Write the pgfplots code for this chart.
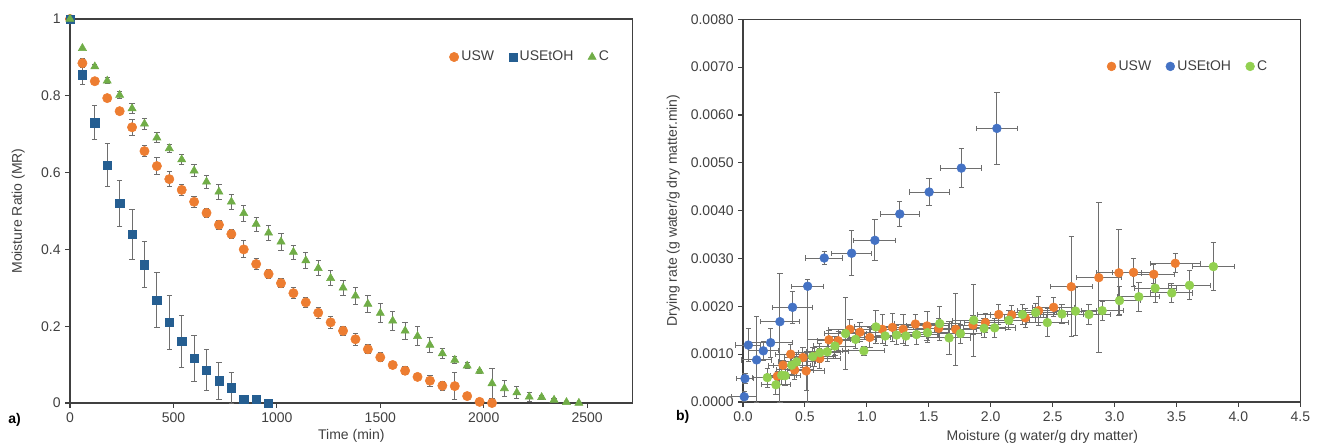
\documentclass[border=0pt]{standalone}
\usepackage{fontspec}
\setmainfont{Liberation Sans}
\usepackage{pgfplots}
\usepackage{pgfplotstable}
\pgfplotsset{compat=1.18}

\definecolor{cOr}{HTML}{ED7D31}
\definecolor{cBd}{HTML}{255E91}
\definecolor{cGr}{HTML}{70AD47}
\definecolor{cBl}{HTML}{4472C4}
\definecolor{cLg}{HTML}{92D050}
\definecolor{cEr}{HTML}{6E6E6E}
\definecolor{cAx}{HTML}{404040}

% a) moisture ratio vs time
\pgfplotstableread{
t y e
0 1.000 0
60 0.885 0.012
120 0.838 0.008
180 0.794 0.008
240 0.760 0.008
300 0.718 0.020
360 0.656 0.015
420 0.617 0.022
480 0.583 0.020
540 0.555 0.015
600 0.524 0.015
660 0.495 0.012
720 0.464 0.012
780 0.440 0.012
840 0.400 0.022
900 0.362 0.015
960 0.336 0.012
1020 0.312 0.012
1080 0.286 0.015
1140 0.262 0.012
1200 0.235 0.015
1260 0.210 0.015
1320 0.188 0.012
1380 0.166 0.015
1440 0.140 0.012
1500 0.119 0.012
1560 0.099 0.010
1620 0.084 0.010
1680 0.068 0.008
1740 0.058 0.015
1800 0.045 0.012
1860 0.044 0.035
1920 0.018 0.010
1980 0.003 0.005
2040 0.000 0
}\usw

\pgfplotstableread{
t y e
0 1.000 0
60 0.855 0.025
120 0.730 0.045
180 0.620 0.055
240 0.520 0.060
300 0.440 0.065
360 0.360 0.060
420 0.268 0.072
480 0.210 0.070
540 0.160 0.068
600 0.116 0.060
660 0.086 0.053
720 0.058 0.048
780 0.040 0.040
840 0.010 0.010
900 0.010 0.005
960 0.000 0
}\usetoh

\pgfplotstableread{
t y e
0 1.000 0
60 0.924 0
120 0.876 0.005
180 0.839 0.008
240 0.802 0.010
300 0.767 0.012
360 0.727 0.015
420 0.691 0.013
480 0.663 0.010
540 0.634 0.013
600 0.605 0.015
660 0.576 0.017
720 0.550 0.020
780 0.524 0.020
840 0.494 0.020
900 0.466 0.018
960 0.443 0.020
1020 0.420 0.022
1080 0.393 0.018
1140 0.371 0.020
1200 0.351 0.020
1260 0.325 0.020
1320 0.300 0.020
1380 0.279 0.022
1440 0.258 0.022
1500 0.234 0.025
1560 0.214 0.025
1620 0.188 0.022
1680 0.174 0.025
1740 0.151 0.020
1800 0.129 0.012
1860 0.112 0.008
1920 0.097 0.008
1980 0.083 0.005
2040 0.051 0.038
2100 0.038 0.020
2160 0.027 0.015
2220 0.016 0.012
2280 0.015 0.005
2340 0.008 0.005
2400 0.002 0.003
2460 0.000 0
}\ctrl

% b) drying rate vs moisture
\pgfplotstableread{
x y ex ep em
0.277 0.00054 0.10 0.0001 0.0001
0.323 0.00077 0.12 0.0001 0.0001
0.385 0.00100 0.12 0.0002 0.0002
0.417 0.00067 0.15 0.0002 0.0002
0.484 0.00093 0.15 0.0002 0.0002
0.510 0.00065 0.15 0.0004 0.0004
0.573 0.00095 0.17 0.0002 0.0002
0.620 0.00091 0.17 0.0002 0.0002
0.694 0.00130 0.17 0.0002 0.0002
0.769 0.00128 0.17 0.0002 0.0002
0.863 0.00152 0.17 0.0002 0.0002
0.944 0.00146 0.17 0.0002 0.0002
1.024 0.00135 0.17 0.0002 0.0002
1.124 0.00152 0.17 0.0003 0.0003
1.207 0.00156 0.17 0.0003 0.0003
1.293 0.00152 0.17 0.0003 0.0003
1.392 0.00163 0.17 0.0002 0.0002
1.486 0.00159 0.17 0.0003 0.0003
1.580 0.00154 0.17 0.0002 0.0002
1.718 0.00152 0.17 0.00075 0.00075
1.857 0.00161 0.17 0.0002 0.0002
1.957 0.00166 0.17 0.0002 0.0002
2.065 0.00183 0.17 0.0002 0.0002
2.170 0.00182 0.17 0.0002 0.0002
2.280 0.00176 0.17 0.0002 0.0002
2.387 0.00191 0.17 0.0003 0.0003
2.508 0.00198 0.17 0.0002 0.0002
2.650 0.00241 0.17 0.00105 0.00105
2.873 0.00260 0.18 0.00157 0.00157
3.035 0.00270 0.18 0.0009 0.0009
3.153 0.00271 0.17 0.0003 0.0003
3.317 0.00267 0.17 0.0002 0.0002
3.490 0.00290 0.20 0.0002 0.0002
}\rusw

\pgfplotstableread{
x y ex ep em
0.010 0.00011 0.10 0.0001 0.0001
0.016 0.00049 0.07 0.0001 0.0001
0.043 0.00119 0.10 0.00035 0.00035
0.110 0.00088 0.12 0.0009 0.0009
0.164 0.00107 0.12 0.0002 0.0002
0.223 0.00124 0.18 0.0003 0.0003
0.298 0.00168 0.16 0.0010 0.0017
0.400 0.00198 0.16 0.00034 0.00034
0.522 0.00242 0.13 0.00015 0.00242
0.656 0.00301 0.15 0.00014 0.00014
0.877 0.00311 0.16 0.00047 0.00047
1.065 0.00338 0.17 0.00043 0.00043
1.266 0.00393 0.16 0.00027 0.00027
1.503 0.00439 0.16 0.00028 0.00028
1.763 0.00489 0.165 0.0004 0.0004
2.050 0.00572 0.165 0.00075 0.00075
}\rusetoh

\pgfplotstableread{
x y ex ep em
0.196 0.00051 0.12 0.0002 0.0002
0.266 0.00036 0.12 0.0002 0.0002
0.312 0.00056 0.12 0.0002 0.0002
0.340 0.00055 0.12 0.0002 0.0002
0.393 0.00077 0.15 0.0002 0.0002
0.433 0.00084 0.15 0.0002 0.0002
0.562 0.00095 0.17 0.0002 0.0002
0.620 0.00103 0.17 0.0002 0.0002
0.680 0.00105 0.17 0.0002 0.0002
0.742 0.00117 0.17 0.0002 0.0002
0.828 0.00143 0.17 0.00075 0.00075
0.909 0.00131 0.17 0.0002 0.0002
0.976 0.00107 0.17 0.0001 0.0001
1.073 0.00157 0.17 0.00035 0.00035
1.148 0.00138 0.17 0.0002 0.0002
1.240 0.00140 0.17 0.0002 0.0002
1.315 0.00138 0.17 0.0002 0.0002
1.401 0.00141 0.17 0.0002 0.0002
1.490 0.00145 0.17 0.0002 0.0002
1.589 0.00164 0.17 0.00035 0.00035
1.664 0.00134 0.17 0.00035 0.00035
1.756 0.00143 0.17 0.0002 0.0002
1.863 0.00171 0.17 0.00075 0.00075
1.946 0.00154 0.17 0.0002 0.0002
2.032 0.00155 0.17 0.0002 0.0002
2.146 0.00171 0.17 0.0002 0.0002
2.256 0.00183 0.17 0.0002 0.0002
2.363 0.00187 0.17 0.0002 0.0002
2.457 0.00166 0.17 0.0003 0.0003
2.575 0.00184 0.17 0.0002 0.0002
2.685 0.00190 0.17 0.0005 0.0005
2.793 0.00183 0.17 0.0002 0.0002
2.900 0.00191 0.17 0.0002 0.0002
3.040 0.00212 0.17 0.0003 0.0003
3.196 0.00220 0.17 0.0003 0.0003
3.328 0.00238 0.17 0.0003 0.0003
3.462 0.00228 0.17 0.0002 0.0002
3.605 0.00244 0.17 0.0003 0.0003
3.798 0.00283 0.17 0.0005 0.0005
}\rctrl

\pgfplotsset{
  panel/.style={
    scale only axis,
    anchor=south west,
    axis line style={draw=cAx, line width=1pt},
    tick style={draw=cAx, line width=0.8pt},
    tick align=outside,
    major tick length=3.5pt,
    xtick pos=bottom, ytick pos=left,
    tick label style={font=\fontsize{10.5}{12}\selectfont, text=cAx},
    label style={font=\fontsize{10.5}{12}\selectfont, text=cAx},
    /pgf/number format/assume math mode=true,
    /pgf/number format/1000 sep={},
    legend columns=3,
    legend style={draw=none, fill=none, font=\fontsize{10.5}{12}\selectfont,
      text=cAx, inner sep=0pt,
      /tikz/every even column/.append style={column sep=9pt}},
    legend image code/.code={\draw[mark repeat=2,mark phase=2,#1]
      plot coordinates {(0cm,0cm)(0.17cm,0cm)(0.34cm,0cm)};},
    clip=false,
  },
  /pgfplots/error bars/ebar/.style={
    /pgfplots/error bars/error bar style={draw=cEr, line width=0.7pt},
    /pgfplots/error bars/error mark=-,
    /pgfplots/error bars/error mark options={draw=cEr, rotate=90, mark size=2pt, line width=0.7pt},
  },
}

\begin{document}
\begin{tikzpicture}
\useasboundingbox (0,0) rectangle (990pt,333pt);

\begin{axis}[panel,
  at={(52.5pt,30.75pt)},
  width=422pt, height=288pt,
  xmin=0, xmax=2720, ymin=0, ymax=1,
  xtick={0,500,...,2500},
  ytick={0,0.2,0.4,0.6,0.8,1},
  yticklabels={0,0.2,0.4,0.6,0.8,1},
  xlabel={Time (min)},
  ylabel={Moisture Ratio (MR)},
  xlabel style={at={(axis description cs:0.5,-0.086)}, anchor=center},
  ylabel style={at={(axis description cs:-0.092,0.5)}, anchor=center},
  legend style={at={(axis description cs:0.963,0.901)}, anchor=east},
]
\addplot[only marks, mark=*, mark size=3.5pt, mark options={draw=cOr, fill=cOr},
  error bars/.cd, y dir=both, y explicit, ebar]
  table[x=t, y=y, y error=e] {\usw};
\addlegendentry{USW}
\addplot[only marks, mark=square*, mark size=3.1pt, mark options={draw=cBd, fill=cBd},
  error bars/.cd, y dir=both, y explicit, ebar]
  table[x=t, y=y, y error=e] {\usetoh};
\addlegendentry{USEtOH}
\addplot[only marks, mark=triangle*, mark size=3.5pt, mark options={draw=cGr, fill=cGr},
  error bars/.cd, y dir=both, y explicit, ebar]
  table[x=t, y=y, y error=e] {\ctrl};
\addlegendentry{C}
\end{axis}

\begin{axis}[panel,
  at={(557.25pt,31.5pt)},
  width=418pt, height=287pt,
  xmin=0, xmax=4.5, ymin=0, ymax=0.008,
  xtick={0,0.5,...,4.5},
  ytick={0,0.001,...,0.008},
  scaled y ticks=false, scaled x ticks=false,
  xticklabel style={/pgf/number format/.cd, fixed, fixed zerofill, precision=1},
  yticklabel style={/pgf/number format/.cd, fixed, fixed zerofill, precision=4},
  xlabel={Moisture (g water/g dry matter)},
  ylabel={Drying rate (g water/g dry matter.min)},
  xlabel style={at={(axis description cs:0.537,-0.091)}, anchor=center},
  ylabel style={at={(axis description cs:-0.125,0.5)}, anchor=center},
  legend style={at={(axis description cs:0.946,0.877)}, anchor=east},
]
\addplot[only marks, mark=*, mark size=3.3pt, mark options={draw=cOr, fill=cOr},
  error bars/.cd, x dir=both, x explicit, y dir=both, y explicit, ebar]
  table[x=x, y=y, x error=ex, y error plus=ep, y error minus=em] {\rusw};
\addlegendentry{USW}
\addplot[only marks, mark=*, mark size=3.3pt, mark options={draw=cBl, fill=cBl},
  error bars/.cd, x dir=both, x explicit, y dir=both, y explicit, ebar]
  table[x=x, y=y, x error=ex, y error plus=ep, y error minus=em] {\rusetoh};
\addlegendentry{USEtOH}
\addplot[only marks, mark=*, mark size=3.3pt, mark options={draw=cLg, fill=cLg},
  error bars/.cd, x dir=both, x explicit, y dir=both, y explicit, ebar]
  table[x=x, y=y, x error=ex, y error plus=ep, y error minus=em] {\rctrl};
\addlegendentry{C}
\end{axis}

\node[font=\bfseries\fontsize{10.5}{12}\selectfont, text=black] at (11pt,18pt) {a)};
\node[font=\bfseries\fontsize{10.5}{12}\selectfont, text=black] at (512pt,20pt) {b)};
\end{tikzpicture}
\end{document}
